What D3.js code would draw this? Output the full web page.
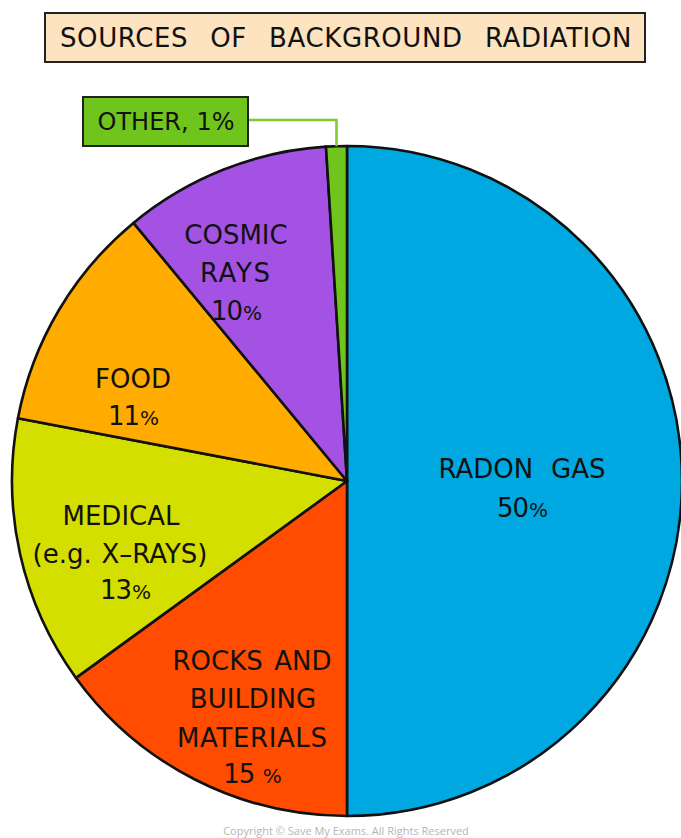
<!DOCTYPE html>
<html>
<head>
<meta charset="utf-8">
<script src="https://cdn.jsdelivr.net/npm/d3@7"></script>
<style>
  html, body { margin: 0; padding: 0; background: #ffffff; }
  svg { display: block; }
  text { font-family: "DejaVu Sans", sans-serif; fill: #111; }
</style>
</head>
<body>
<svg id="chart" width="681" height="838"></svg>
<script>
// ---- data ----
const titleText = "SOURCES OF BACKGROUND RADIATION";
const categories = ["RADON GAS", "ROCKS AND BUILDING MATERIALS", "MEDICAL (e.g. X-RAYS)", "FOOD", "COSMIC RAYS", "OTHER"];
const values = [50, 15, 13, 11, 10, 1];
const colors = ["#00a8e1", "#ff4c00", "#d4df00", "#ffab00", "#a452e4", "#6fc51c"];
// label lines per slice: [text, centerX, centerY, width]
const labelLines = [
  [["RADON GAS", 522, 468, 167], ["50%", 522, 507, 43]],
  [["ROCKS AND", 252, 660, 159], ["BUILDING", 253, 698, 119], ["MATERIALS", 252, 737, 150], ["15 %", 252, 773, 47]],
  [["MEDICAL", 121, 515, 108], ["(e.g. X\u2013RAYS)", 120, 553, 175], ["13%", 125, 589, 40]],
  [["FOOD", 133, 378, 73], ["11%", 133, 415, 37]],
  [["COSMIC", 236, 234, 102], ["RAYS", 235, 272, 70], ["10%", 236, 310, 45]],
  []
];
const otherLabel = "OTHER, 1%";
const copyright = "Copyright \u00a9 Save My Exams. All Rights Reserved";

// ---- drawing ----
const svg = d3.select("#chart");
const cx = 347, cy = 481, R = 335;

// fit a text to a target width: extra room goes to word gaps (multi-word) or letters
function fitText(sel, target) {
  const txt = sel.text();
  const natural = sel.node().getComputedTextLength();
  if (natural >= target) return;
  const gaps = (txt.match(/ /g) || []).length;
  if (gaps > 0 && !/%/.test(txt)) {
    sel.attr("word-spacing", (target - natural) / gaps);
  } else {
    sel.attr("textLength", target).attr("lengthAdjust", "spacing");
  }
}

// percentage label: number + smaller percent sign
function pctText(x, y, t) {
  const m = t.match(/^(\d+)(\s*)%$/);
  const s = svg.append("text").attr("x", x).attr("y", y).attr("text-anchor", "middle")
    .attr("font-size", 26).attr("letter-spacing", -1);
  s.append("tspan").text(m[1] + m[2]);
  s.append("tspan").attr("font-size", 20).attr("dx", 1).text("%");
  return s;
}

// title box
svg.append("rect").attr("x", 45).attr("y", 13).attr("width", 600).attr("height", 49)
  .attr("fill", "#fde3bf").attr("stroke", "#222").attr("stroke-width", 2);
const title = svg.append("text").attr("x", 346).attr("y", 47).attr("text-anchor", "middle")
  .attr("font-size", 26).attr("letter-spacing", 0.6)
  .text(titleText);
fitText(title, 572);

const pie = d3.pie().sort(null).value(d => d)(values);
const arc = d3.arc().innerRadius(0).outerRadius(R);

const g = svg.append("g").attr("transform", `translate(${cx},${cy})`);
g.selectAll("path.slice").data(pie).join("path")
  .attr("class", "slice")
  .attr("d", arc)
  .attr("fill", (d, i) => colors[i])
  .attr("stroke", "#111")
  .attr("stroke-width", 2.6)
  .attr("stroke-linejoin", "round");

// labels
labelLines.forEach(lines => {
  lines.forEach(([t, x, y, w]) => {
    if (/^\d+\s*%$/.test(t)) {
      pctText(x, y + 9.5, t);
    } else {
      const s = svg.append("text").attr("x", x).attr("y", y + 9.5).attr("text-anchor", "middle")
        .attr("font-size", 26).text(t);
      fitText(s, w);
    }
  });
});

// other leader + box
const otherSlice = pie[5];
const midA = (otherSlice.startAngle + otherSlice.endAngle) / 2;
const ex = cx + R * Math.sin(midA), ey = cy - R * Math.cos(midA);
const boxX = 83, boxY = 97, boxW = 165, boxH = 49;
svg.append("path")
  .attr("d", `M${boxX + boxW},${boxY + 23} H${ex} V${ey}`)
  .attr("fill", "none").attr("stroke", "#7ccb28").attr("stroke-width", 2.5);
svg.append("rect").attr("x", boxX).attr("y", boxY).attr("width", boxW).attr("height", boxH)
  .attr("fill", colors[5]).attr("stroke", "#222").attr("stroke-width", 2);
const ot = svg.append("text").attr("x", 166).attr("y", 121 + 9).attr("text-anchor", "middle")
  .attr("font-size", 24).text(otherLabel);
fitText(ot, 137);

// copyright
svg.append("text").attr("x", 346).attr("y", 835).attr("text-anchor", "middle")
  .attr("font-size", 11).style("fill", "#b5b5b5")
  .style("font-family", "'Open Sans', sans-serif")
  .text(copyright);
</script>
</body>
</html>
